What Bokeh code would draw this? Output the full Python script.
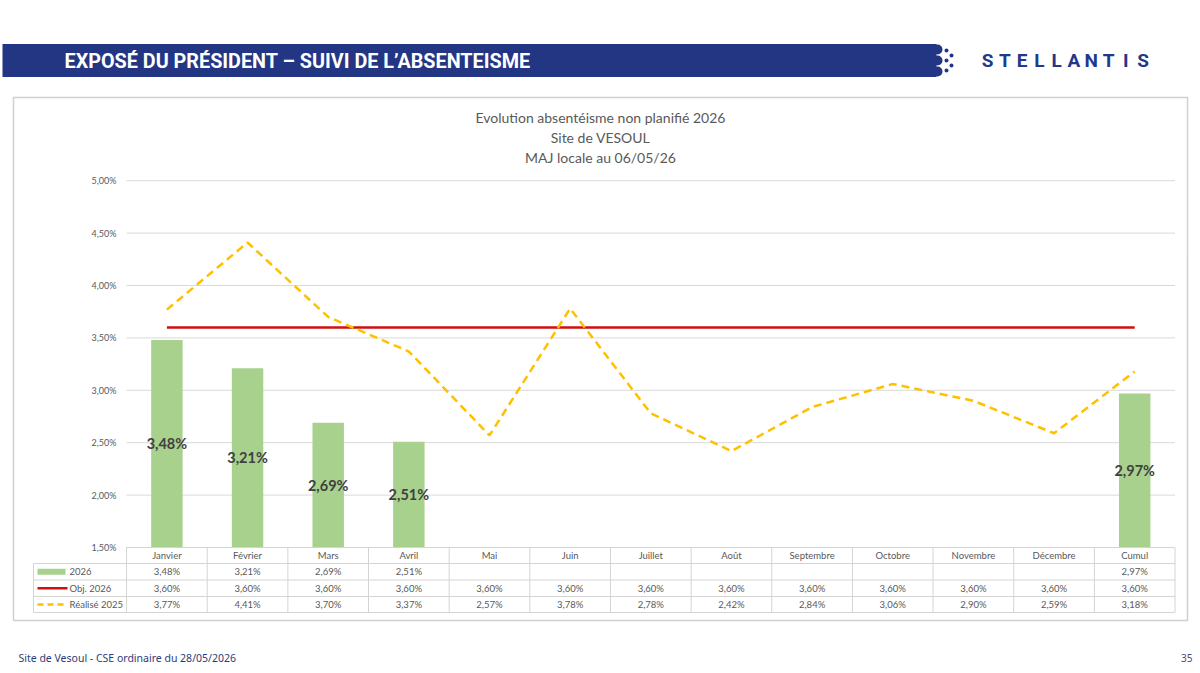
from bokeh.plotting import figure
from bokeh.models import Range1d
from bokeh.embed import file_html
from bokeh.resources import INLINE
from bokeh.core.properties import value

# ---------------- data ----------------
months = ["Janvier", "Février", "Mars", "Avril", "Mai", "Juin", "Juillet",
          "Août", "Septembre", "Octobre", "Novembre", "Décembre", "Cumul"]
absent_2026 = [3.48, 3.21, 2.69, 2.51, None, None, None, None, None, None, None, None, 2.97]
obj_2026 = [3.60, 3.60, 3.60, 3.60, 3.60, 3.60, 3.60, 3.60, 3.60, 3.60, 3.60, 3.60, 3.60]
realise_2025 = [3.77, 4.41, 3.70, 3.37, 2.57, 3.78, 2.78, 2.42, 2.84, 3.06, 2.90, 2.59, 3.18]
y_ticks = [1.5, 2.0, 2.5, 3.0, 3.5, 4.0, 4.5, 5.0]
series_names = ["2026", "Obj. 2026", "Réalisé 2025"]
title_lines = ["Evolution absentéisme non planifié 2026", "Site de VESOUL", "MAJ locale au 06/05/26"]
header_text = "EXPOSÉ DU PRÉSIDENT – SUIVI DE L’ABSENTEISME"
footer_text = "Site de Vesoul - CSE ordinaire du 28/05/2026"
page_no = "35"

# ---------------- styles ----------------
W, H = 1200, 673
GREEN = "#a9d18e"
RED = "#d01010"
YELLOW = "#ffc000"
GRID = "#d9d9d9"
TXT = "#595959"
NAVY = "#233684"
FONT = value("Lato")

def fmt(v):
    return "" if v is None else ("%.2f%%" % v).replace(".", ",")

# page coordinates (pixels, y downward) as the main range
p = figure(width=W, height=H, x_range=Range1d(0, W), y_range=Range1d(H, 0),
           output_backend="svg", toolbar_location=None,
           x_axis_type=None, y_axis_type=None, min_border=0)
p.grid.visible = False
p.outline_line_color = None
p.background_fill_color = "white"
p.border_fill_color = "white"

# data ranges: category index -> x, percent -> y
X0, COLW = 166.4, 80.65
Y15, PXPCT = 547.0, 104.8
p.extra_x_ranges = {"cat": Range1d(-X0 / COLW, (W - X0) / COLW)}
p.extra_y_ranges = {"pct": Range1d(1.5 - (H - Y15) / PXPCT, 1.5 + Y15 / PXPCT)}

idx = list(range(len(months)))

# ---------------- header ----------------
p.quad(left=[2], right=[936], top=[43.5], bottom=[76.5], fill_color=NAVY, line_color=None)
p.scatter(x=[937, 937, 937], y=[49, 60, 71], size=10, marker="circle", fill_color=NAVY, line_color=None)
p.scatter(x=[946, 946, 946, 951, 951], y=[50, 60, 70, 55, 65], size=4, marker="circle",
          fill_color=NAVY, line_color=None)
p.text(x=[64], y=[60.5], text=[header_text], text_font=value("Roboto"), text_font_style="bold",
       text_font_size="19.8px", text_color="white", text_baseline="middle", text_align="left")
logo = "STELLANTIS"
p.text(x=[987 + 17.3 * i for i in range(len(logo))], y=[60] * len(logo), text=list(logo),
       text_font=value("Roboto"), text_font_style="bold", text_font_size="19px",
       text_color="#24388a", text_baseline="middle", text_align="center")

# ---------------- chart box ----------------
p.quad(left=[13], right=[1187], top=[97], bottom=[620], fill_color=None,
       line_color="#d0d0d0", line_width=1.5)

for k, t in enumerate(title_lines):
    p.text(x=[600], y=[117 + 20 * k], text=[t], text_font=FONT, text_font_size="14px",
           text_color=TXT, text_baseline="middle", text_align="center")

# gridlines & y tick labels
p.segment(x0=[-0.5] * len(y_ticks), x1=[12.5] * len(y_ticks), y0=y_ticks, y1=y_ticks,
          line_color=GRID, line_width=1, x_range_name="cat", y_range_name="pct")
p.text(x=[-0.6] * len(y_ticks), y=y_ticks, text=[fmt(t) for t in y_ticks],
       text_font=FONT, text_font_size="9px", text_color=TXT, text_baseline="middle",
       text_align="right", x_range_name="cat", y_range_name="pct", x_offset=-2)

# bars
bi = [i for i in idx if absent_2026[i] is not None]
bv = [absent_2026[i] for i in bi]
p.vbar(x=bi, top=bv, bottom=1.5, width=0.39, fill_color=GREEN, line_color=None,
       x_range_name="cat", y_range_name="pct")

# lines
p.line(x=idx, y=obj_2026, line_color=RED, line_width=2.5, x_range_name="cat", y_range_name="pct")
p.line(x=idx, y=realise_2025, line_color=YELLOW, line_width=2.5, line_dash="8 5",
       x_range_name="cat", y_range_name="pct")

# bar labels (centered in the bar)
p.text(x=bi, y=[(1.5 + v) / 2 for v in bv], text=[fmt(v) for v in bv], text_font=FONT,
       text_font_style="bold", text_font_size="14.5px", text_color="#404040",
       text_baseline="middle", text_align="center", x_range_name="cat", y_range_name="pct")

# ---------------- data table ----------------
row_y = [547, 563, 579.5, 596, 612]
TB = "#d4d4d4"
p.segment(x0=[-0.5], x1=[12.5], y0=[row_y[0]], y1=[row_y[0]], line_color=TB, x_range_name="cat")
p.segment(x0=[33] * 4, x1=[X0 + 12.5 * COLW] * 4, y0=row_y[1:], y1=row_y[1:], line_color=TB)
cols = [i - 0.5 for i in range(len(months) + 1)]
p.segment(x0=cols, x1=cols, y0=[row_y[0]] * len(cols), y1=[row_y[-1]] * len(cols),
          line_color=TB, x_range_name="cat")
p.segment(x0=[33], x1=[33], y0=[row_y[1]], y1=[row_y[-1]], line_color=TB)

mid = [(row_y[k] + row_y[k + 1]) / 2 for k in range(4)]
p.text(x=idx, y=[mid[0]] * len(idx), text=months, text_font=FONT, text_font_size="9.5px",
       text_color=TXT, text_baseline="middle", text_align="center", x_range_name="cat")
for r, series in enumerate([absent_2026, obj_2026, realise_2025]):
    p.text(x=idx, y=[mid[r + 1]] * len(idx), text=[fmt(v) for v in series], text_font=FONT,
           text_font_size="9.5px", text_color=TXT, text_baseline="middle", text_align="center",
           x_range_name="cat")

# legend keys
p.quad(left=[37], right=[65], top=[mid[1] - 3], bottom=[mid[1] + 3], fill_color=GREEN, line_color=None)
p.segment(x0=[37], x1=[67], y0=[mid[2]], y1=[mid[2]], line_color=RED, line_width=2.5)
p.segment(x0=[37], x1=[67], y0=[mid[3]], y1=[mid[3]], line_color=YELLOW, line_width=2.5, line_dash="6 4")
p.text(x=[69] * 3, y=mid[1:], text=series_names, text_font=FONT, text_font_size="9.5px",
       text_color=TXT, text_baseline="middle", text_align="left")

# ---------------- footer ----------------
p.text(x=[18], y=[657], text=[footer_text], text_font=value("Noto Sans"), text_font_size="10.5px",
       text_color="#2e3b7a", text_baseline="middle", text_align="left")
p.text(x=[1192], y=[657], text=[page_no], text_font=value("Noto Sans"), text_font_size="10px",
       text_color="#3c4a8c", text_baseline="middle", text_align="right")

open("out.html", "w").write(file_html(p, INLINE))
